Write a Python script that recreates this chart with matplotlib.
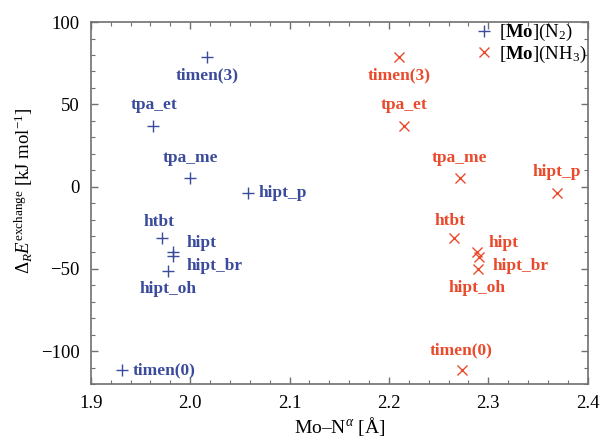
import matplotlib
matplotlib.use("Agg")
import matplotlib.pyplot as plt
from matplotlib.ticker import MultipleLocator

plt.rcParams['font.family'] = ['Liberation Serif', 'DejaVu Serif']
plt.rcParams['mathtext.fontset'] = 'custom'
plt.rcParams['mathtext.rm'] = 'Liberation Serif'
plt.rcParams['mathtext.it'] = 'Liberation Serif:italic'
plt.rcParams['mathtext.bf'] = 'Liberation Serif:bold'

labels = ["timen(3)", "tpa_et", "tpa_me", "hipt_p", "htbt", "hipt", "hipt_br", "hipt_oh", "timen(0)"]
n2_x = [2.017, 1.963, 2.000, 2.058, 1.972, 1.983, 1.983, 1.978, 1.931]
n2_y = [79, 37, 5, -4, -31.5, -39.5, -42, -51, -111.5]
nh3_x = [2.210, 2.215, 2.271, 2.369, 2.265, 2.289, 2.291, 2.290, 2.273]
nh3_y = [79, 37, 5, -4, -31.5, -39.5, -42.5, -50, -111.5]

blue = '#3b4b9c'
red = '#ea4a2c'

# label offsets in pixels (dx, dy, ha)
n2_off = [(0, -19, 'center'), (1, 21, 'center'), (0, 20, 'center'), (11, 0, 'left'),
          (-3, 16, 'center'), (13, 9, 'left'), (13, -10, 'left'), (0, -18, 'center'), (11, 0, 'left')]
nh3_off = [(0, -19, 'center'), (0, 21, 'center'), (0, 20, 'center'), (0, 21, 'center'),
           (-4, 17, 'center'), (11, 9, 'left'), (13, -9, 'left'), (-1, -19, 'center'), (0, 20, 'center')]

fig = plt.figure(figsize=(6.01, 4.41), dpi=100)
ax = fig.add_axes([0.151, 0.129, 0.827, 0.821])

ax.plot(n2_x, n2_y, linestyle='none', marker='+', ms=8.5, mew=1.0, color=blue,
        label=r'[$\mathbf{Mo}$](N$_2$)')
ax.plot(nh3_x, nh3_y, linestyle='none', marker='x', ms=7.5, mew=1.0, color=red,
        label=r'[$\mathbf{Mo}$](NH$_3$)')

for xs, ys, offs, c in [(n2_x, n2_y, n2_off, blue), (nh3_x, nh3_y, nh3_off, red)]:
    for lab, x, y, (dx, dy, ha) in zip(labels, xs, ys, offs):
        ax.annotate(lab, (x, y), xytext=(dx, dy), textcoords='offset pixels',
                    ha=ha, va='center', color=c, fontsize=12.5, fontweight='bold')

ax.set_xlim(1.9, 2.4)
ax.set_ylim(-120, 100)
ax.xaxis.set_minor_locator(MultipleLocator(0.02))
ax.yaxis.set_minor_locator(MultipleLocator(10))
ax.set_xticks([1.9, 2.0, 2.1, 2.2, 2.3, 2.4])
ax.set_xticklabels(['1.9', '2.0', '2.1', '2.2', '2.3', '2.4'])
ax.set_yticks([-100, -50, 0, 50, 100])
ax.set_yticklabels(['\u2212100', '\u221250', '0', '50', '100'])

spine_c = '#707070'
for s in ax.spines.values():
    s.set_color(spine_c)
    s.set_linewidth(1.2)
ax.tick_params(which='both', direction='in', top=True, right=True, color=spine_c, labelsize=13.5)
ax.tick_params(which='major', length=5, width=1)
ax.tick_params(which='minor', length=3, width=0.8)
ax.tick_params(axis='x', pad=8)
ax.tick_params(axis='y', pad=8)

ax.set_xlabel('Mo\u2013N$^{\\alpha}$ [\u00c5]', fontsize=14)
ax.xaxis.set_label_coords(0.50, -0.085)
ax.set_ylabel(r'$\Delta_R E^{\mathrm{exchange}}$ [kJ mol$^{-1}$]', fontsize=13.5)
ax.yaxis.set_label_coords(-0.113, 0.533)

ax.legend(loc='upper right', bbox_to_anchor=(1.012, 1.02), frameon=False, fontsize=13.5,
          handletextpad=0.2, borderaxespad=0.0, labelspacing=0.0, handlelength=1.2)

fig.savefig('out.png', dpi=100)
